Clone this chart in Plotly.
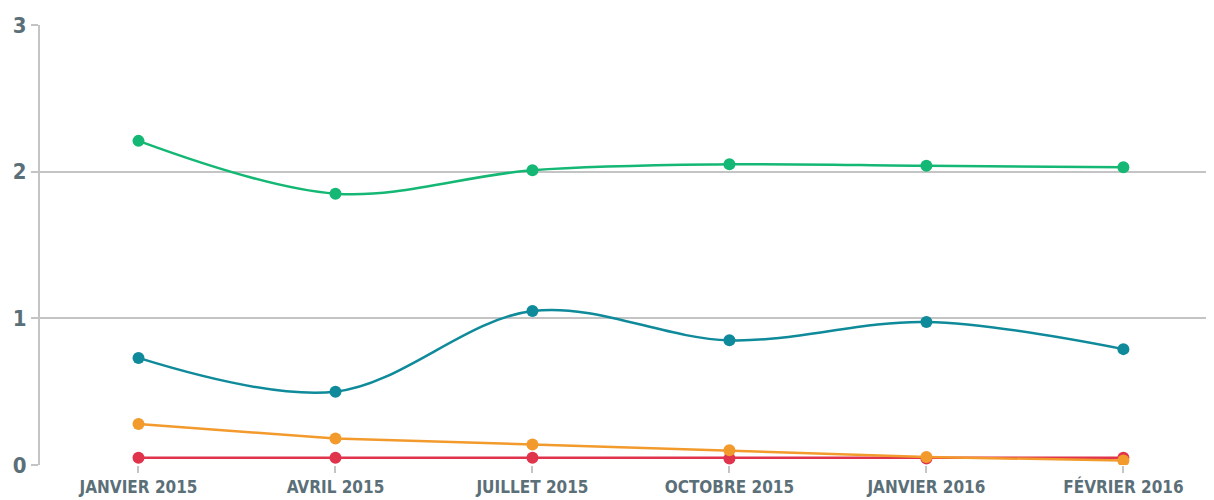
import plotly.graph_objects as go

categories = ["JANVIER 2015", "AVRIL 2015", "JUILLET 2015", "OCTOBRE 2015", "JANVIER 2016", "FÉVRIER 2016"]
green_vals = [2.21, 1.85, 2.01, 2.05, 2.04, 2.03]
blue_vals = [0.73, 0.50, 1.05, 0.85, 0.975, 0.79]
orange_vals = [0.28, 0.18, 0.14, 0.10, 0.055, 0.03]
red_vals = [0.05, 0.05, 0.05, 0.045, 0.045, 0.05]
y_ticks = [0, 1, 2, 3]

series = [
    (red_vals, "#e0334c", "linear"),
    (orange_vals, "#f39a2c", "linear"),
    (blue_vals, "#0e8a9a", "spline"),
    (green_vals, "#14b774", "spline"),
]

fig = go.Figure()
for vals, color, shape in series:
    fig.add_trace(go.Scatter(
        x=list(range(len(categories))), y=vals, mode="lines+markers",
        line=dict(color=color, width=2.5, shape=shape, smoothing=1.0),
        marker=dict(color=color, size=12),
        showlegend=False, hoverinfo="skip",
    ))

font_family = "DejaVu Sans Condensed, sans-serif"
fig.update_layout(
    width=1206, height=492,
    margin=dict(l=32, r=0, t=17, b=35),
    plot_bgcolor="white", paper_bgcolor="white",
    font=dict(family=font_family, color="#5b6f78", size=18),
    xaxis=dict(
        tickmode="array", tickvals=list(range(len(categories))), ticktext=["<b>%s</b>" % c for c in categories],
        range=[-0.5, 5.46], showgrid=False, zeroline=False, automargin=False,
        showline=False, ticks="outside", ticklen=7, tickwidth=2, tickcolor="#c4c4c4",
        tickfont=dict(size=17, family=font_family, color="#5b6f78"),
    ),
    yaxis=dict(
        range=[0, 3], tickvals=y_ticks, ticktext=["<b>%d</b>" % v for v in y_ticks],
        showgrid=True, gridcolor="#c4c4c4", gridwidth=2, automargin=False,
        zeroline=False, showline=True, linecolor="#c4c4c4", linewidth=2,
        ticks="outside", ticklen=7, tickwidth=2, tickcolor="#c4c4c4",
        tickfont=dict(size=22, family=font_family, color="#5b6f78"),
    ),
)
fig.write_html("out.html")
